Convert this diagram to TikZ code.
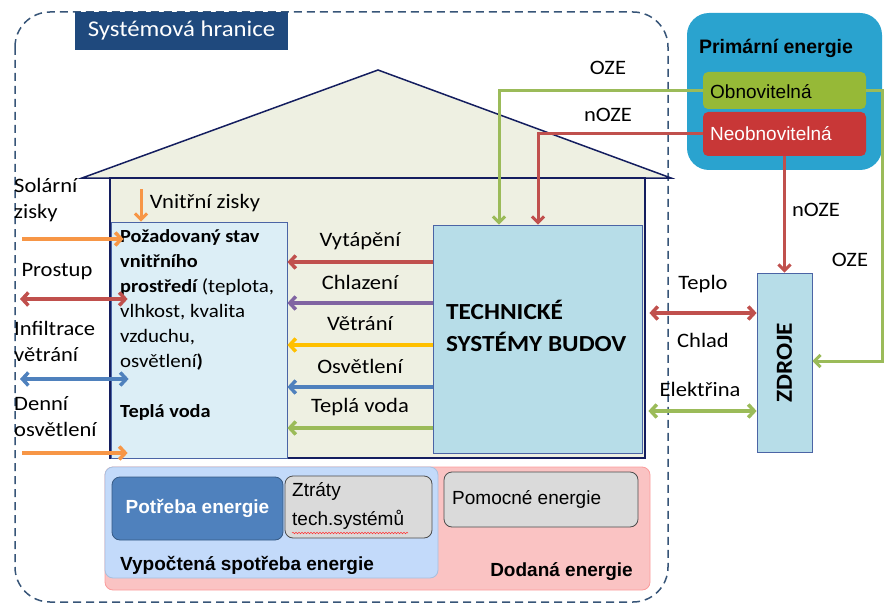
\documentclass[tikz,border=0pt]{standalone}
\usepackage{fontspec}
\setmainfont{Carlito}[FakeStretch=1.1]
\newfontfamily\narrow{Liberation Sans}
\usetikzlibrary{arrows.meta}
\usetikzlibrary{decorations.pathmorphing}

\definecolor{cBound}{RGB}{55,85,120}
\definecolor{cTitle}{RGB}{31,73,125}
\definecolor{cNavy}{RGB}{20,30,95}
\definecolor{cWall}{RGB}{238,240,226}
\definecolor{cNeed}{RGB}{220,238,246}
\definecolor{cTech}{RGB}{183,221,232}
\definecolor{cEdge}{RGB}{75,100,165}
\definecolor{cRed}{RGB}{192,80,77}
\definecolor{cPurple}{RGB}{128,100,162}
\definecolor{cYellow}{RGB}{255,192,0}
\definecolor{cBlue}{RGB}{79,129,189}
\definecolor{cGreen}{RGB}{155,187,89}
\definecolor{cOrange}{RGB}{247,150,70}
\definecolor{cPrim}{RGB}{42,163,207}
\definecolor{cObn}{RGB}{150,185,55}
\definecolor{cNeob}{RGB}{200,55,55}
\definecolor{cPink}{RGB}{250,195,195}
\definecolor{cCalc}{RGB}{195,218,250}
\definecolor{cGray}{RGB}{218,218,218}

\newcommand{\bx}[1]{{\fontsize{18.5}{25}\selectfont\bfseries #1}}

\begin{document}
\begin{tikzpicture}[x=1pt,y=-1pt,
    flow/.style={line width=3.5pt,-{Straight Barb[length=6pt,width=13pt]}},
    twoway/.style={line width=3.5pt,{Straight Barb[length=6pt,width=13pt]}-{Straight Barb[length=6pt,width=13pt]}},
    feed/.style={line width=3pt,-{Straight Barb[length=6pt,width=12pt]}},
    lbl/.style={inner sep=0pt,font=\fontsize{20.5}{26}\selectfont},
    blbl/.style={inner sep=0pt,font=\fontsize{19}{22}\selectfont\narrow\bfseries},
    nlbl/.style={inner sep=0pt,font=\fontsize{19}{22}\selectfont\narrow},
    techbox/.style={draw=cEdge,fill=cTech,line width=0.8pt,inner sep=0pt},
    softbox/.style={rounded corners=8pt,line width=0.8pt,inner sep=0pt}]
    \useasboundingbox (0,0) rectangle (885,604);

    % system boundary
    \draw[cBound,line width=1.5pt,dash pattern=on 8pt off 5pt,rounded corners=35pt] (15,12) rectangle (668,602);
    \node[fill=cTitle,text=white,minimum width=213pt,minimum height=38pt,font=\fontsize{22.5}{26}\selectfont] (title) at (181.5,31) {Systémová hranice};

    % house
    \draw[cNavy,line width=1.5pt,fill=cWall] (82,178) -- (378,70) -- (671,178) -- cycle;
    \draw[cNavy,line width=1.5pt,fill=cWall] (110,178) rectangle (645,458);

    \node[draw=cEdge,fill=cNeed,line width=0.8pt,minimum width=176pt,minimum height=236pt] (need) at (199,340) {};
    \node[techbox,minimum width=209pt,minimum height=228pt] (tech) at (537.5,339) {};
    \node[anchor=west,align=left,inner sep=0pt,font=\fontsize{23}{32}\selectfont\bfseries] (techtxt) at (446,326) {TECHNICKÉ\\SYSTÉMY BUDOV};

    \node[inner sep=0pt,font=\fontsize{19}{25}\selectfont,anchor=north west,align=left] (needtxt) at (120,229)
        {\bx{Požadovaný stav}\\\bx{vnitřního}\\\bx{prostředí} (teplota,\\vlhkost, kvalita\\vzduchu,\\osvětlení\bx{)}\\[25pt]\bx{Teplá voda}};

    % services from technical systems
    \foreach \yy/\txt/\col [count=\i] in {262/Vytápění/cRed, 303/Chlazení/cPurple, 345/Větrání/cYellow, 387/Osvětlení/cBlue, 428/Teplá voda/cGreen}
    {
        \draw[flow,\col] (tech.west |- 0,\yy) -- (need.east |- 0,\yy);
        \node[lbl] (serv\i) at (360,\yy-21) {\txt};
    }

    % outside influences
    \node[lbl,anchor=north west,align=left] (solar) at (14,178) {Solární\\zisky};
    \node[lbl] (prostup) at (57,272) {Prostup};
    \node[lbl,anchor=north west,align=left] (infil) at (14,321) {Infiltrace\\větrání};
    \node[lbl,anchor=north west,align=left] (daylight) at (14,396) {Denní\\osvětlení};
    \node[lbl] (internal) at (205,203) {Vnitřní zisky};
    \coordinate (solIn) at (22,239);
    \coordinate (proIn) at (20,299);
    \coordinate (infIn) at (20,379);
    \coordinate (dayIn) at (22,453);
    \coordinate (intIn) at (141,189);
    \draw[flow,cOrange] (solIn) -- ([xshift=13pt]need.west |- solIn);
    \draw[twoway,cRed] (proIn) -- ([xshift=17pt]need.west |- proIn);
    \draw[twoway,cBlue] (infIn) -- ([xshift=18pt]need.west |- infIn);
    \draw[flow,cOrange] (dayIn) -- ([xshift=17pt]need.west |- dayIn);
    \draw[feed,cOrange] (intIn) -- (need.north -| intIn);

    % primary energy
    \node[fill=cPrim,rounded corners=22pt,minimum width=195pt,minimum height=157pt] (prim) at (784.5,91.5) {};
    \node[blbl,font=\fontsize{19.5}{22}\selectfont\narrow\bfseries] (primtxt) at (776,48) {Primární energie};
    \node[fill=cObn,rounded corners=5pt,minimum width=163pt,minimum height=37pt] (obn) at (784.5,90.5) {};
    \node[nlbl,anchor=west] (obntxt) at (710,92) {Obnovitelná};
    \node[fill=cNeob,rounded corners=5pt,minimum width=163pt,minimum height=44pt] (neob) at (784.5,134) {};
    \node[nlbl,anchor=west,text=white] (neobtxt) at (710,134) {Neobnovitelná};

    % sources
    \node[techbox,minimum width=55pt,minimum height=179pt] (src) at (784.5,362.5) {};
    \node[rotate=90,inner sep=0pt,font=\fontsize{23}{26}\selectfont\bfseries] (srctxt) at (src) {ZDROJE};

    \draw[feed,cGreen] (obn.west) -| (tech.north -| 499,0);
    \draw[feed,cRed] (neob.west) -| (tech.north -| 538,0);
    \draw[feed,cRed] (neob.south) -- (src.north);
    \draw[feed,cGreen] (obn.east) -| (882,361) -- (src.east |- 0,361);
    \node[lbl] (oze1) at (608,68) {OZE};
    \node[lbl] (noze1) at (608,115) {nOZE};
    \node[lbl] (noze2) at (816,210) {nOZE};
    \node[lbl] (oze2) at (850,260) {OZE};

    \draw[twoway,cRed] ([xshift=7pt]tech.east |- 0,313) -- (src.west |- 0,313);
    \draw[twoway,cGreen] ([xshift=6pt]tech.east |- 0,411) -- (src.west |- 0,411);
    \node[lbl] (heat) at (703,284) {Teplo};
    \node[lbl] (cold) at (703,340) {Chlad};
    \node[lbl] (elec) at (700,389) {Elektřina};

    % energy balance
    \node[softbox,draw=cPink!80!red,fill=cPink,minimum width=545pt,minimum height=123pt] (deliv) at (377.5,528.5) {};
    \node[softbox,draw=cBlue!50,fill=cCalc,minimum width=333pt,minimum height=111pt] (calc) at (271.5,522.5) {};
    \node[softbox,draw=cBlue!70!black,fill=cBlue,minimum width=171pt,minimum height=63pt] (need2) at (197.5,508.5) {};
    \node[blbl,text=white] (needtxt2) at (197.5,508) {Potřeba energie};
    \node[softbox,draw=black!70,fill=cGray,minimum width=147pt,minimum height=62pt] (loss) at (358.5,507) {};
    \node[nlbl,anchor=north west,align=left,font=\fontsize{19}{29}\selectfont\narrow] (losstxt) at (292,482) {Ztráty\\tech.systémů};
    \draw[red!80,line width=0.5pt,decorate,decoration={snake,amplitude=0.8pt,segment length=3pt}] (292,533) -- (408,533);
    \node[softbox,draw=black!70,fill=cGray,minimum width=194pt,minimum height=55pt] (aux) at (541,499.5) {};
    \node[nlbl,anchor=west] (auxtxt) at (452,499) {Pomocné energie};
    \node[blbl,anchor=west] (calctxt) at (120,565) {Vypočtená spotřeba energie};
    \node[blbl,anchor=east] (delivtxt) at (633,572) {Dodaná energie};
\end{tikzpicture}
\end{document}
